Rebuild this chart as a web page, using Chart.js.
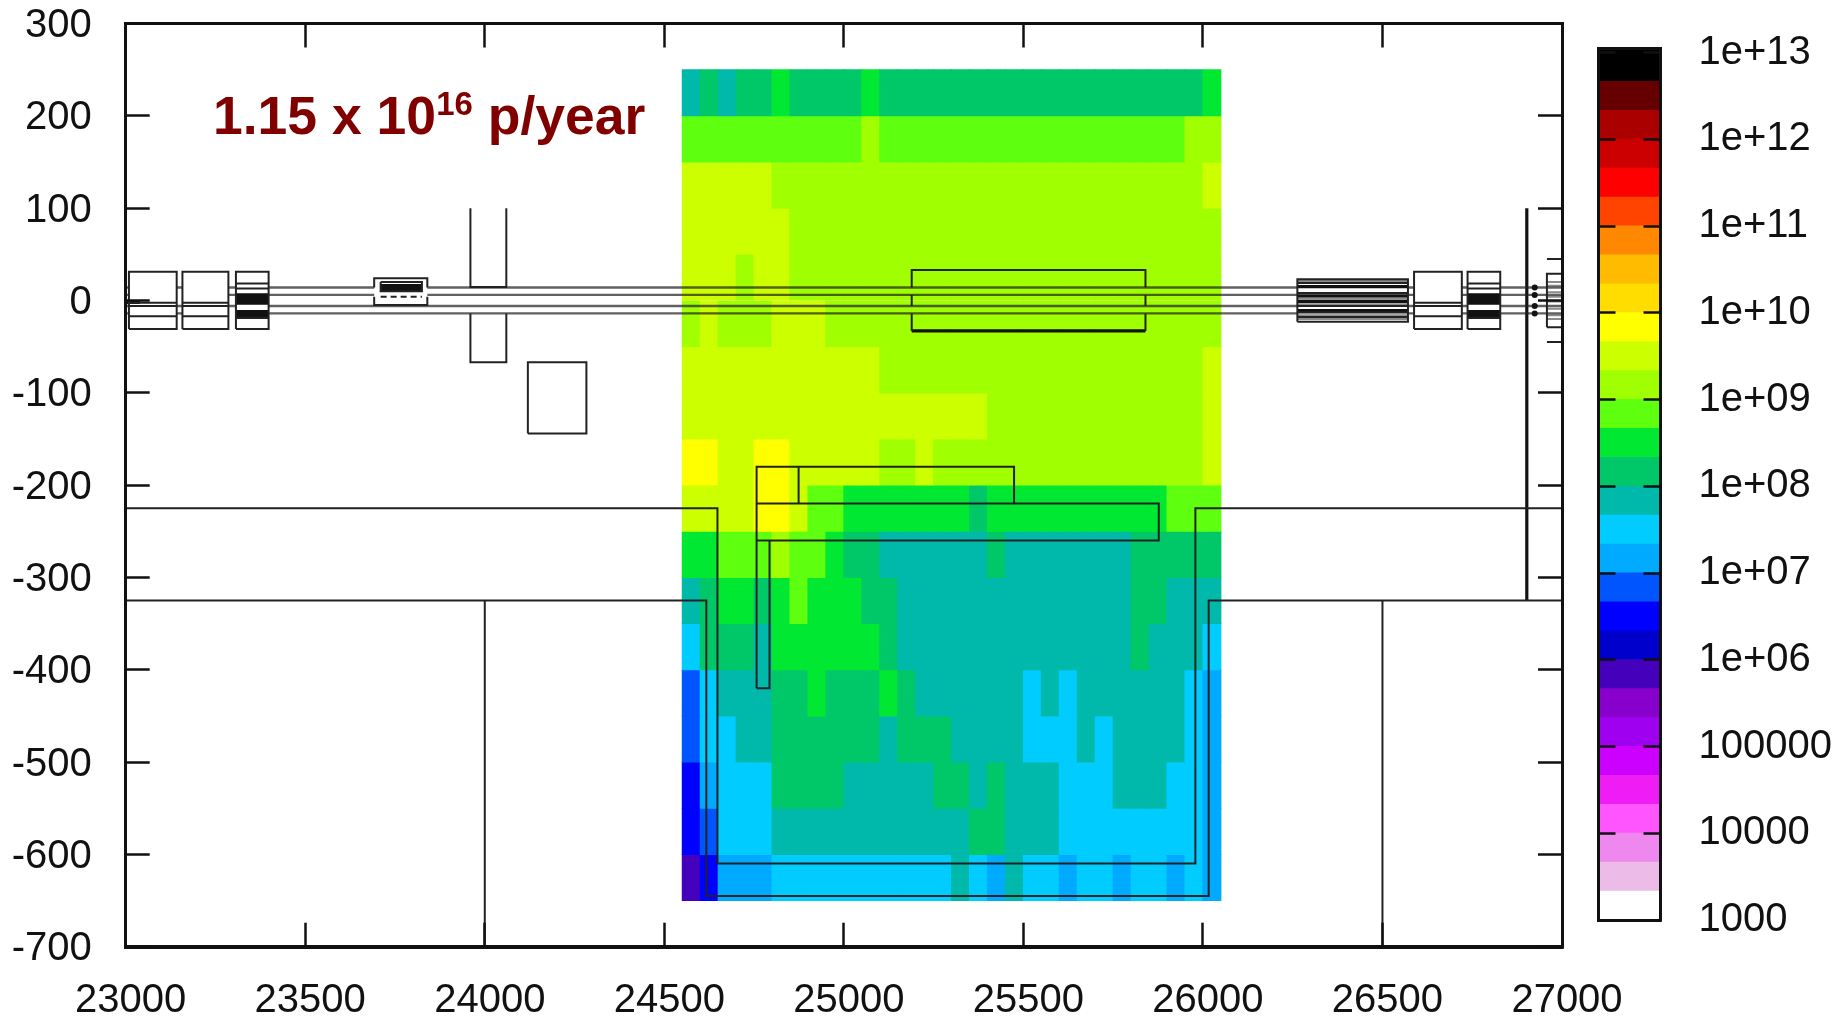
<!DOCTYPE html>
<html>
<head>
<meta charset="utf-8">
<title>1.15 x 10^16 p/year</title>
<script src="https://cdn.jsdelivr.net/npm/chart.js@4/dist/chart.umd.js"></script>
<style>
  html, body { margin: 0; padding: 0; background: #fff; overflow: hidden; }
  canvas { position: absolute; top: 0; }
  #mapChart { left: 0; }
  #barChart { left: 1560px; }
  #note {
    position: absolute; left: 213px; top: 80px;
    font: bold 53.5px "Liberation Sans", Arial, sans-serif; color: #800000;
    white-space: nowrap; line-height: 72px;
  }
  #note sup { font-size: 33px; line-height: 0; vertical-align: 19px; }
</style>
</head>
<body>
<canvas id="mapChart" width="1847" height="1019"></canvas>
<canvas id="barChart" width="287" height="1019"></canvas>
<div id="note">1.15 x 10<sup>16</sup> p/year</div>

<script>
// axis ticks
const xTicks = [23000, 23500, 24000, 24500, 25000, 25500, 26000, 26500, 27000];
const yTicks = [300, 200, 100, 0, -100, -200, -300, -400, -500, -600, -700];

// colour bands, lowest first (three per decade)
const bandColours = [
  '#ffffff', '#ecbbe8', '#ee88ee', '#ff55ff', '#f01cf5', '#cc00ff',
  '#a000f0', '#8800cc', '#4400bb', '#0000cc', '#0000ff', '#0055ff',
  '#00aaff', '#00ccff', '#00b9aa', '#00c868', '#00e832', '#5fff10',
  '#a0ff00', '#ccff00', '#ffff00', '#ffdd00', '#ffbb00', '#ff8800',
  '#ff4400', '#ff0000', '#cc0000', '#aa0000', '#660000', '#000000'
];
// the black band runs a little past 1e+13, up to the frame
const bandEdges = [
  1e3, 2.15e3, 4.64e3, 1e4, 2.15e4, 4.64e4, 1e5, 2.15e5, 4.64e5, 1e6, 2.15e6,
  4.64e6, 1e7, 2.15e7, 4.64e7, 1e8, 2.15e8, 4.64e8, 1e9, 2.15e9, 4.64e9, 1e10,
  2.15e10, 4.64e10, 1e11, 2.15e11, 4.64e11, 1e12, 2.15e12, 4.64e12, 1.127e13
];
const barTicks = [1e13, 1e12, 1e11, 1e10, 1e9, 1e8, 1e7, 1e6, 1e5, 1e4, 1e3];
const barLabels = ['1e+13', '1e+12', '1e+11', '1e+10', '1e+09', '1e+08', '1e+07', '1e+06', '100000', '10000', '1000'];

// map cells: column centres, row tops, and the colour band of every cell
const cellX = [
  24575, 24625, 24675, 24725, 24775, 24825, 24875, 24925, 24975, 25025,
  25075, 25125, 25175, 25225, 25275, 25325, 25375, 25425, 25475, 25525,
  25575, 25625, 25675, 25725, 25775, 25825, 25875, 25925, 25975, 26025
];
const rowTop = [250, 200, 150, 100, 50, 0, -50, -100, -150, -200, -250, -300, -350, -400, -450, -500, -550, -600];
const cellBands = [
  [14,15,14,15,15,16,15,15,15,15,16,15,15,15,15,15,15,15,15,15,15,15,15,15,15,15,15,15,15,16],
  [17,17,17,17,17,17,17,17,17,17,18,17,17,17,17,17,17,17,17,17,17,17,17,17,17,17,17,17,18,18],
  [19,19,19,19,19,18,18,18,18,18,18,18,18,18,18,18,18,18,18,18,18,18,18,18,18,18,18,18,18,19],
  [19,19,19,19,19,19,18,18,18,18,18,18,18,18,18,18,18,18,18,18,18,18,18,18,18,18,18,18,18,18],
  [19,19,19,18,19,19,18,18,18,18,18,18,18,18,18,18,18,18,18,18,18,18,18,18,18,18,18,18,18,18],
  [18,19,18,18,18,19,19,19,18,18,18,18,18,18,18,18,18,18,18,18,18,18,18,18,18,18,18,18,18,18],
  [19,19,19,19,19,19,19,19,19,19,19,18,18,18,18,18,18,18,18,18,18,18,18,18,18,18,18,18,18,19],
  [19,19,19,19,19,19,19,19,19,19,19,19,19,19,19,19,19,18,18,18,18,18,18,18,18,18,18,18,18,19],
  [20,20,19,19,20,20,19,19,19,19,19,18,18,19,18,18,18,18,18,18,18,18,18,18,18,18,18,18,18,19],
  [19,19,19,19,20,20,19,17,17,16,16,16,16,16,16,16,15,16,16,16,16,16,16,16,16,16,16,17,17,17],
  [16,16,17,17,17,18,17,17,16,15,15,14,14,14,14,14,14,15,14,14,14,14,14,14,14,15,15,15,15,15],
  [14,15,16,16,15,16,17,16,16,16,15,15,14,14,14,14,14,14,14,14,14,14,14,14,14,15,15,14,14,14],
  [13,15,15,15,14,16,16,16,16,16,16,15,14,14,14,14,14,14,14,14,14,14,14,14,14,15,14,14,14,13],
  [11,13,14,14,14,15,15,16,15,15,15,16,15,14,14,14,14,14,14,13,14,13,14,14,14,14,14,14,13,12],
  [11,13,13,14,14,15,15,15,15,15,15,14,15,15,15,14,14,14,14,13,13,13,14,13,14,14,14,14,13,12],
  [10,12,13,13,13,15,15,15,15,14,14,14,14,14,15,15,14,15,14,14,14,13,13,13,14,14,14,13,13,12],
  [10,11,13,13,13,14,14,14,14,14,14,14,14,14,14,14,15,15,14,14,14,13,13,13,13,13,13,13,13,12],
  [8,10,12,12,12,13,13,13,13,13,13,13,13,13,13,14,13,12,14,13,13,12,13,13,12,13,13,12,13,12]
];

// beam pipes and the spans where they run free
const beamLevels = [14, 6, -6, -14];
const beamSpans = [[23000, 23009], [23398, 23692], [23840, 26263], [26571, 26588], [26721, 26737], [26828, 27000]];
const beamLinks = [
  [23142, 23158, 14], [23142, 23158, -6], [23142, 23158, -14],
  [23286, 23307, 14], [23286, 23307, 6], [23286, 23307, -6],
  [23692, 23840, -6], [23692, 23840, -14]
];

// [x0, x1, y0, y1] outlines
const outlineBoxes = [
  [23009, 23142, -31, 31], [23158, 23286, -31, 31], [23307, 23398, -31, 31],
  [24120, 24283, -144, -67],
  [24757, 25474, -220, -180], [24757, 25877, -260, -220], [24757, 24793, -420, -260],
  [26263, 26571, -23, 23], [26588, 26721, -31, 31], [26737, 26828, -31, 31],
  [26958, 27000, -29, 29]
];
// open outlines, x/y pairs
const outlinePaths = [
  [[23000, -225], [24648, -225], [24648, -610], [25979, -610], [25979, -225], [27000, -225]],
  [[23000, -325], [24617, -325], [24617, -645], [26016, -645], [26016, -325], [27000, -325]],
  [[24000, -325], [24000, -700]],
  [[26500, -325], [26500, -700]],
  [[23960, 100], [23960, 14.5], [24060, 14.5], [24060, 100]],
  [[23960, -14], [23960, -67], [24060, -67], [24060, -14]],
  [[24874, -180], [24874, -220]],
  [[25189, 14], [25189, 33], [25840, 33], [25840, 14]],
  [[25189, 6], [25189, -6]],
  [[25840, 6], [25840, -6]],
  [[25189, -14], [25189, -33]],
  [[25840, -14], [25840, -33]],
  [[23692, 14], [23692, 24], [23840, 24], [23840, 14]],
  [[23692, 4], [23692, -5], [23840, -5], [23840, 4]],
  [[23710, 20], [23710, 10], [23825, 10], [23825, 20], [23710, 20]],
  [[26958, 45], [27000, 45]],
  [[26958, -45], [27000, -45]],
  [[23009, -2.5], [23142, -2.5]], [[23009, -6], [23142, -6]], [[23009, -17], [23142, -17]],
  [[23158, -2.5], [23286, -2.5]], [[23158, -6], [23286, -6]], [[23158, -17], [23286, -17]],
  [[26588, -2.5], [26721, -2.5]], [[26588, -6], [26721, -6]], [[26588, -17], [26721, -17]],
  [[23307, 18.4], [23398, 18.4]], [[23307, 13], [23398, 13]], [[23307, -19], [23398, -19]],
  [[26737, 18.4], [26828, 18.4]], [[26737, 13], [26828, 13]], [[26737, -19], [26828, -19]],
  [[26263, 19], [26571, 19]], [[26263, 8], [26571, 8]], [[26263, -6], [26571, -6]],
  [[26263, -13], [26571, -13]], [[26263, -18], [26571, -18]]
];
// solid dark stripes: x0, x1, y
const heavyLines = [
  [23307, 23398, 6], [23307, 23398, 3], [23307, 23398, 0], [23307, 23398, -3],
  [23307, 23398, -12], [23307, 23398, -15], [23307, 23398, -18],
  [26737, 26828, 6], [26737, 26828, 3], [26737, 26828, 0], [26737, 26828, -3],
  [26737, 26828, -12], [26737, 26828, -15], [26737, 26828, -18],
  [23710, 23825, 16], [23710, 23825, 13], [23710, 23825, 11],
  [26263, 26571, 15], [26263, 26571, 5], [26263, 26571, -1], [26263, 26571, -11],
  [25189, 25840, -33],
  [23000, 23040, -2]
];
const greyLines = [
  [26263, 26571, 21], [26263, 26571, 2], [26263, 26571, -4], [26263, 26571, -16], [26263, 26571, -20],
  [26958, 27000, 20], [26958, 27000, 16], [26958, 27000, 9], [26958, 27000, 4], [26958, 27000, -1],
  [26958, 27000, -9], [26958, 27000, -16], [26958, 27000, -20]
];
const dashedLines = [[23710, 23825, 4]];
const wallLine = [[26902, 100], [26902, -325]];
const pipeDots = [[26924, 14], [26924, 6], [26924, -6], [26924, -14]];

const FONT = '"Liberation Sans", Arial, sans-serif';
const INK = '#111';

// join several paths into one dataset, null points make the gaps
function joinPaths(paths) {
  const out = [];
  paths.forEach(function (p) {
    p.forEach(function (q) { out.push({ x: q[0], y: q[1] }); });
    out.push({ x: null, y: null });
  });
  return out;
}
function boxPath(b) {
  return [[b[0], b[2]], [b[1], b[2]], [b[1], b[3]], [b[0], b[3]], [b[0], b[2]]];
}
function spanPath(s) {
  return [[s[0], s[2]], [s[1], s[2]]];
}
function lineSet(paths, width, colour, dash) {
  return {
    type: 'line',
    data: joinPaths(paths),
    borderColor: colour,
    borderWidth: width,
    // a dash here keeps Chart.js off its fast path, which merges vertical runs
    borderDash: dash || [5000, 0],
    pointRadius: 0,
    spanGaps: false,
    order: 1
  };
}

const beamPaths = [];
beamLevels.forEach(function (y) {
  beamSpans.forEach(function (s) { beamPaths.push(spanPath([s[0], s[1], y])); });
});

const rowSets = cellBands.map(function (bands, r) {
  return {
    type: 'bar',
    grouped: false,
    order: 5,
    data: bands.map(function (b, c) {
      return { x: cellX[c], y: [rowTop[r] - 50, rowTop[r]] };
    }),
    backgroundColor: bands.map(function (b) { return bandColours[b]; }),
    borderWidth: 0,
    barPercentage: 1,
    categoryPercentage: 1,
    inflateAmount: 0.5
  };
});

function sideScale(pos, min, max, ticks, tickLen) {
  return {
    type: 'linear', position: pos, min: min, max: max, offset: false,
    afterBuildTicks: function (s) { s.ticks = ticks.map(function (v) { return { value: v }; }); },
    afterFit: function (s) {
      if (pos === 'top') s.height = 0; else s.width = 0;
    },
    ticks: { display: false },
    border: { display: true, color: INK, width: 3, z: 1 },
    grid: { offset: false, drawOnChartArea: false, drawTicks: true, tickLength: tickLen, tickColor: INK, tickWidth: 2.5, z: 1 }
  };
}

new Chart(document.getElementById('mapChart'), {
  type: 'bar',
  data: {
    datasets: rowSets.concat([
      lineSet(outlineBoxes.map(boxPath).concat(outlinePaths), 2, '#222'),
      lineSet(beamPaths.concat(beamLinks.map(spanPath)), 2.4, 'rgba(30,30,30,0.7)'),
      lineSet(heavyLines.map(spanPath), 3.2, '#111'),
      lineSet(greyLines.map(spanPath), 2, 'rgba(90,90,90,0.7)'),
      lineSet(dashedLines.map(spanPath), 2, '#222', [6, 4]),
      lineSet([wallLine], 3.2, '#111'),
      {
        type: 'scatter',
        data: pipeDots.map(function (p) { return { x: p[0], y: p[1] }; }),
        pointRadius: 3,
        pointBackgroundColor: '#111',
        pointBorderWidth: 0,
        showLine: false,
        order: 0
      }
    ])
  },
  options: {
    responsive: false,
    animation: false,
    events: [],
    layout: { padding: { left: 0, right: 285, top: 23.5, bottom: 0 } },
    plugins: { legend: { display: false }, tooltip: { enabled: false } },
    scales: {
      x: {
        type: 'linear', position: 'bottom', min: 23000, max: 27000, offset: false,
        afterBuildTicks: function (s) { s.ticks = xTicks.map(function (v) { return { value: v }; }); },
        afterFit: function (s) { s.height = 72.3; s.paddingLeft = 0; s.paddingRight = 0; },
        ticks: {
          autoSkip: false, maxRotation: 0, padding: 54, labelOffset: 5, color: INK,
          font: { family: FONT, size: 40 }, callback: function (v) { return String(v); }
        },
        border: { display: true, color: INK, width: 4, z: 1 },
        grid: { offset: false, drawOnChartArea: false, drawTicks: true, tickLength: -24, tickColor: INK, tickWidth: 2.5, z: 1 }
      },
      y: {
        type: 'linear', position: 'left', min: -700, max: 300,
        afterBuildTicks: function (s) { s.ticks = yTicks.map(function (v) { return { value: v }; }); },
        // ticks.padding also feeds the top and bottom margins, drop it so the plot stays pinned
        afterFit: function (s) { s.width = 125.7; s.paddingTop = 0; s.paddingBottom = 0; },
        ticks: {
          autoSkip: false, padding: 58, labelOffset: 2.5, color: INK,
          font: { family: FONT, size: 40 }, callback: function (v) { return String(v); }
        },
        border: { display: true, color: INK, width: 3, z: 1 },
        grid: { drawOnChartArea: false, drawTicks: true, tickLength: -24, tickColor: INK, tickWidth: 2.5, z: 1 }
      },
      xTop: sideScale('top', 23000, 27000, xTicks, -24),
      yRight: sideScale('right', -700, 300, yTicks, -24)
    }
  }
});

// colour bar, one floating bar per band on a log axis
new Chart(document.getElementById('barChart'), {
  type: 'bar',
  data: {
    labels: [''],
    datasets: bandColours.map(function (c, i) {
      return {
        data: [[bandEdges[i], bandEdges[i + 1]]],
        backgroundColor: c,
        borderWidth: 0,
        grouped: false,
        barPercentage: 1,
        categoryPercentage: 1,
        inflateAmount: 0.5
      };
    })
  },
  options: {
    responsive: false,
    animation: false,
    events: [],
    layout: { padding: { left: 38.5, right: 0, top: 48, bottom: 0 } },
    plugins: { legend: { display: false }, tooltip: { enabled: false } },
    scales: {
      x: {
        position: 'bottom',
        afterFit: function (s) { s.height = 99; },
        ticks: { display: false },
        border: { display: true, color: INK, width: 3, z: 1 },
        grid: { display: false }
      },
      xTop: {
        type: 'linear', position: 'top', min: 0, max: 1,
        afterFit: function (s) { s.height = 0; },
        ticks: { display: false },
        border: { display: true, color: INK, width: 3, z: 1 },
        grid: { drawOnChartArea: false, drawTicks: false }
      },
      y: {
        type: 'logarithmic', position: 'right', min: 1e3, max: 1.127e13,
        afterBuildTicks: function (s) { s.ticks = barTicks.map(function (v) { return { value: v }; }); },
        afterFit: function (s) { s.width = 186.5; s.paddingTop = 0; s.paddingBottom = 0; },
        ticks: {
          autoSkip: false, padding: 55, color: INK, font: { family: FONT, size: 40 },
          callback: function (v) { return barLabels[barTicks.indexOf(v)]; }
        },
        border: { display: true, color: INK, width: 3, z: 1 },
        grid: { drawOnChartArea: false, drawTicks: true, tickLength: -17, tickColor: INK, tickWidth: 2.5, z: 1 }
      },
      yLeft: {
        type: 'logarithmic', position: 'left', min: 1e3, max: 1.127e13,
        afterBuildTicks: function (s) { s.ticks = barTicks.map(function (v) { return { value: v }; }); },
        afterFit: function (s) { s.width = 0; },
        ticks: { display: false },
        border: { display: true, color: INK, width: 3, z: 1 },
        grid: { drawOnChartArea: false, drawTicks: true, tickLength: -17, tickColor: INK, tickWidth: 2.5, z: 1 }
      }
    }
  }
});
</script>
</body>
</html>
